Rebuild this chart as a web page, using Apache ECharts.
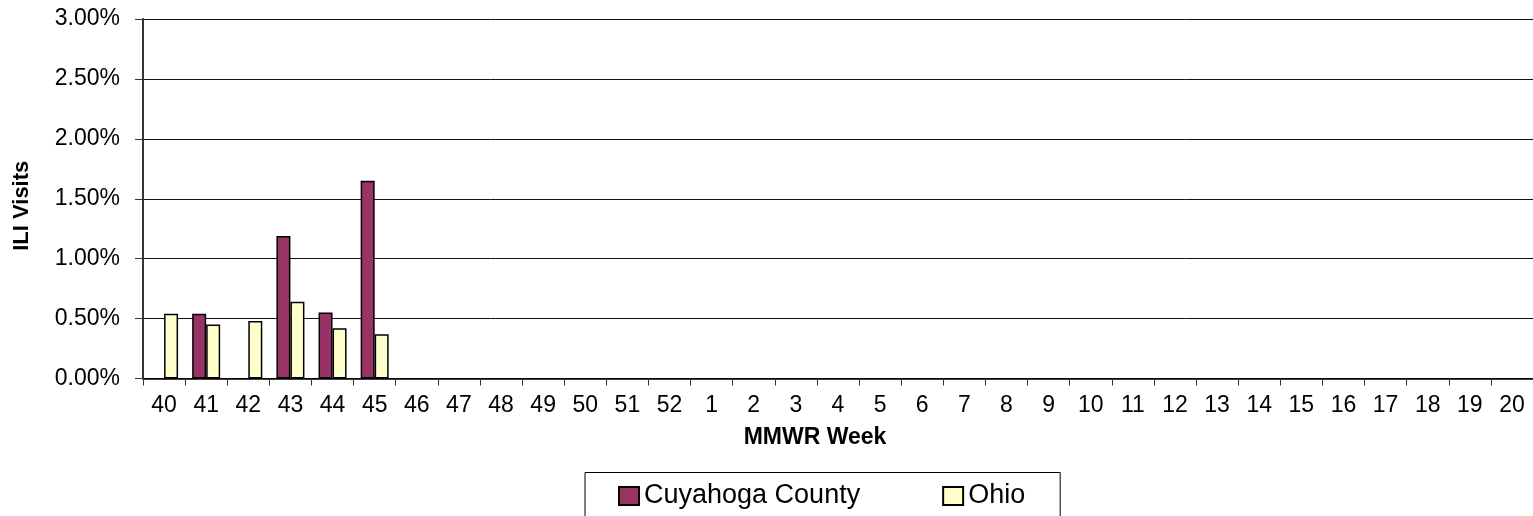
<!DOCTYPE html>
<html>
<head>
<meta charset="utf-8">
<style>
  html, body { margin: 0; padding: 0; background: #fff; }
</style>
</head>
<body>
<div id="main" style="width: 1533px;height:516px;"></div>

<script type="text/javascript" src="https://cdn.jsdelivr.net/npm/echarts@6/dist/echarts.min.js"></script>
<script>
    // MMWR weeks 40..52 then 1..20
    var weeks = ['40','41','42','43','44','45','46','47','48','49','50','51','52',
                 '1','2','3','4','5','6','7','8','9','10','11','12','13','14','15','16','17','18','19','20'];
    // ILI visits in percent, null = no report
    var cuyahoga = [null, 0.54, null, 1.19, 0.55, 1.65];
    var ohio = [0.54, 0.45, 0.48, 0.64, 0.42, 0.37];
    var yTicks = { min: 0, max: 3, interval: 0.5 };

    var font = 'Liberation Sans, Arial, sans-serif';
    var myChart = echarts.init(document.getElementById('main'));

    option = {
        animation: false,
        textStyle: { fontFamily: font },
        grid: { left: 143, top: 19, right: -4, bottom: 137.5 },
        legend: {
            data: ['Cuyahoga County', 'Ohio'],
            left: 585,
            top: 472.5,
            orient: 'horizontal',
            padding: [10, 35, 9, 33],
            itemWidth: 20,
            itemHeight: 18,
            itemGap: 82,
            borderColor: '#000',
            borderWidth: 1,
            icon: 'rect',
            textStyle: { fontSize: 27, color: '#000', fontFamily: font }
        },
        xAxis: [
            {
                type: 'category',
                data: weeks,
                name: 'MMWR Week',
                nameLocation: 'middle',
                nameGap: 48,
                nameTextStyle: { fontSize: 23, fontWeight: 'bold', color: '#000', padding: [0, 46, 0, 0], fontFamily: font },
                axisLine: { lineStyle: { color: '#000', width: 1.5 } },
                axisTick: { show: true, length: 7, lineStyle: { color: '#333' } },
                axisLabel: { fontSize: 23, color: '#000', margin: 16, interval: 0, fontFamily: font }
            }
        ],
        yAxis: [
            {
                type: 'value',
                min: yTicks.min,
                max: yTicks.max,
                interval: yTicks.interval,
                name: 'ILI Visits',
                nameLocation: 'middle',
                nameGap: 110,
                nameTextStyle: { fontSize: 22, fontWeight: 'bold', color: '#000', padding: [0, 14, 0, 0], fontFamily: font },
                axisLine: { show: true, lineStyle: { color: '#333', width: 2 } },
                axisTick: { show: true, length: 8, lineStyle: { color: '#333' } },
                axisLabel: {
                    fontSize: 23,
                    color: '#000',
                    margin: 23,
                    fontFamily: font,
                    formatter: function (v) { return v.toFixed(2) + '%'; }
                },
                splitLine: { show: true, lineStyle: { color: '#111', width: 1 } }
            }
        ],
        series: [
            {
                name: 'Cuyahoga County',
                type: 'bar',
                data: cuyahoga,
                barWidth: 14,
                barGap: '0%',
                itemStyle: { color: '#993366', borderColor: '#000', borderWidth: 1.5 }
            },
            {
                name: 'Ohio',
                type: 'bar',
                data: ohio,
                barWidth: 14,
                barGap: '0%',
                itemStyle: { color: '#FFFFCC', borderColor: '#000', borderWidth: 1.5 }
            }
        ]
    };

    myChart.setOption(option);
</script>
</body>
</html>
